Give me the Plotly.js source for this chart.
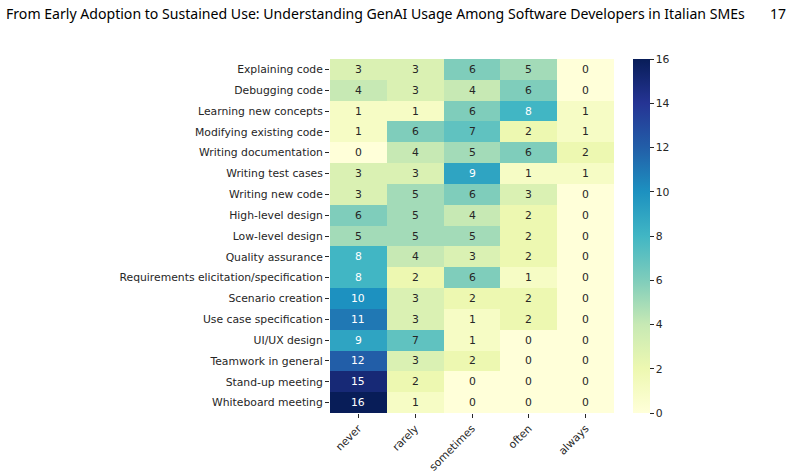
<!DOCTYPE html>
<html>
<head>
<meta charset="utf-8">
<script src="https://cdn.plot.ly/plotly-3.0.1.min.js"></script>
<style>html,body{margin:0;padding:0;background:#fff;}#chart{width:800px;height:474px;}</style>
</head>
<body>
<div id="chart"></div>
<script>
const categories = ["Explaining code","Debugging code","Learning new concepts","Modifying existing code","Writing documentation","Writing test cases","Writing new code","High-level design","Low-level design","Quality assurance","Requirements elicitation/specification","Scenario creation","Use case specification","UI/UX design","Teamwork in general","Stand-up meeting","Whiteboard meeting"];
const frequencies = ["never","rarely","sometimes","often","always"];
const never     = [3,4,1,1,0,3,3,6,5,8,8,10,11,9,12,15,16];
const rarely    = [3,3,1,6,4,3,5,5,5,4,2,3,3,7,3,2,1];
const sometimes = [6,4,6,7,5,9,6,4,5,3,6,2,1,1,2,0,0];
const often     = [5,6,8,2,6,1,3,2,2,2,1,2,2,0,0,0,0];
const always    = [0,0,1,1,2,1,0,0,0,0,0,0,0,0,0,0,0];
const headerText = "From Early Adoption to Sustained Use: Understanding GenAI Usage Among Software Developers in Italian SMEs";
const pageNumber = "17";

const cols = [never, rarely, sometimes, often, always];
const z = categories.map((c, i) => cols.map(col => col[i]));

const ylgnbu = [
  [0, '#ffffd9'], [0.125, '#edf8b1'], [0.25, '#c7e9b4'], [0.375, '#7fcdbb'],
  [0.5, '#41b6c4'], [0.625, '#1d91c0'], [0.75, '#225ea8'], [0.875, '#253494'], [1, '#081d58']
];

const annotations = [];
categories.forEach((c, i) => {
  frequencies.forEach((f, j) => {
    const v = z[i][j];
    annotations.push({
      x: f, y: c, text: String(v), showarrow: false,
      font: {family: 'DejaVu Sans', size: 10.8, color: v >= 8 ? '#ffffff' : '#262626'}
    });
  });
});
annotations.push({
  xref: 'paper', yref: 'paper', x: (788 - 330) / 284, y: (413 - 14) / 354,
  xanchor: 'right', yanchor: 'middle', text: pageNumber, showarrow: false,
  font: {family: 'Noto Sans', size: 14, color: '#000000'}
});

const trace = {
  type: 'heatmap', x: frequencies, y: categories, z: z,
  colorscale: ylgnbu, zmin: 0, zmax: 16, xgap: 0, ygap: 0,
  hoverinfo: 'skip',
  colorbar: {
    x: (633 - 330) / 284, xanchor: 'left', xpad: 0, ypad: 0,
    thickness: 17, len: 1, lenmode: 'fraction', y: 0.5, yanchor: 'middle',
    outlinewidth: 0, ticks: 'outside', ticklen: 4, tickwidth: 1, tickcolor: '#262626',
    tickvals: [0,2,4,6,8,10,12,14,16],
    tickfont: {family: 'DejaVu Sans', size: 10.8, color: '#262626'}
  }
};

const layout = {
  width: 800, height: 474,
  margin: {l: 330, r: 186, t: 59, b: 61},
  paper_bgcolor: '#ffffff', plot_bgcolor: '#ffffff',
  title: {
    text: headerText, xref: 'container', yref: 'container',
    x: 6 / 800, xanchor: 'left', y: 1 - 14 / 474, yanchor: 'middle',
    font: {family: 'Noto Sans', size: 14.1, color: '#000000'}
  },
  xaxis: {
    type: 'category', tickangle: -45, ticks: 'outside', ticklen: 4, tickcolor: '#262626',
    showgrid: false, zeroline: false, showline: false,
    tickfont: {family: 'DejaVu Sans', size: 10.8, color: '#262626'}
  },
  yaxis: {
    type: 'category', autorange: 'reversed', ticks: 'outside', ticklen: 4, tickcolor: '#262626',
    showgrid: false, zeroline: false, showline: false,
    tickfont: {family: 'DejaVu Sans', size: 10.8, color: '#262626'}
  },
  annotations: annotations
};

Plotly.newPlot('chart', [trace], layout, {displayModeBar: false, staticPlot: true});
</script>
</body>
</html>
